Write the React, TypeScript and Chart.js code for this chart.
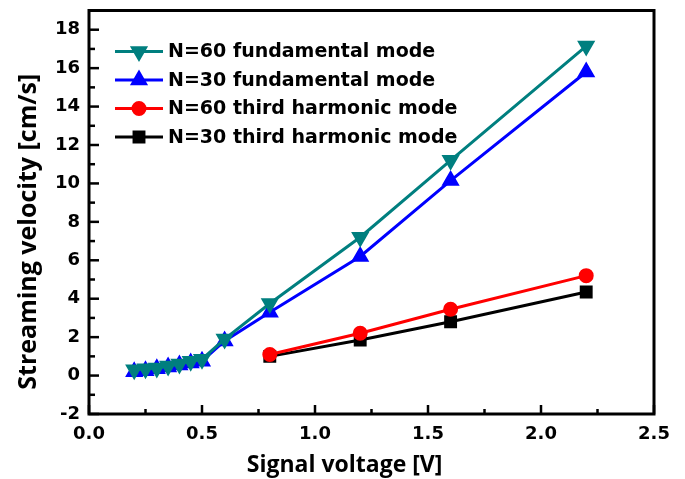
import React, { useEffect, useRef } from 'react';
import { Chart, registerables } from 'chart.js';
import { drawPoint } from 'chart.js/helpers';

Chart.register(...registerables);

// ---- data ----
const fundamentalVoltage = [0.2, 0.25, 0.3, 0.35, 0.4, 0.45, 0.5, 0.6, 0.8, 1.2, 1.6, 2.2];
const n60Fundamental = [0.3, 0.35, 0.4, 0.5, 0.6, 0.75, 0.85, 1.9, 3.75, 7.2, 11.2, 17.15];
const n30Fundamental = [0.2, 0.25, 0.35, 0.45, 0.55, 0.65, 0.75, 1.8, 3.3, 6.2, 10.15, 15.8];
const harmonicVoltage = [0.8, 1.2, 1.6, 2.2];
const n60Third = [1.1, 2.2, 3.45, 5.2];
const n30Third = [1.0, 1.85, 2.8, 4.35];

const seriesLabels = [
  'N=60 fundamental mode',
  'N=30 fundamental mode',
  'N=60 third harmonic mode',
  'N=30 third harmonic mode',
];

const xTicks = [0, 0.5, 1.0, 1.5, 2.0, 2.5];
const yTicks = [-2, 0, 2, 4, 6, 8, 10, 12, 14, 16, 18];
const xMinorTicks = [0.25, 0.75, 1.25, 1.75, 2.25];
const yMinorTicks = [-1, 1, 3, 5, 7, 9, 11, 13, 15, 17];

const xTitle = 'Signal voltage [V]';
const yTitle = 'Streaming velocity [cm/s]';

const toPoints = (xs: number[], ys: number[]) => xs.map((x, i) => ({ x, y: ys[i] }));

const TEAL = '#007F7F';
const BLUE = '#0000FF';
const RED = '#FF0000';
const BLACK = '#000000';

const framePlugin = {
  id: 'frameTicks',
  afterDatasetsDraw(chart: any) {
    const { ctx, chartArea: a, scales } = chart;
    const x = scales.x;
    const y = scales.y;
    ctx.save();
    ctx.strokeStyle = '#000';
    ctx.lineCap = 'butt';
    ctx.lineWidth = 2.5;
    const line = (x1: number, y1: number, x2: number, y2: number) => {
      ctx.beginPath();
      ctx.moveTo(x1, y1);
      ctx.lineTo(x2, y2);
      ctx.stroke();
    };
    xTicks.forEach((v) => {
      const px = x.getPixelForValue(v);
      line(px, a.bottom, px, a.bottom - 9);
    });
    xMinorTicks.forEach((v) => {
      const px = x.getPixelForValue(v);
      line(px, a.bottom, px, a.bottom - 5);
    });
    yTicks.forEach((v) => {
      const py = y.getPixelForValue(v);
      line(a.left, py, a.left + 10, py);
    });
    yMinorTicks.forEach((v) => {
      const py = y.getPixelForValue(v);
      line(a.left, py, a.left + 6, py);
    });
    ctx.lineWidth = 3;
    ctx.strokeRect(a.left, a.top, a.right - a.left, a.bottom - a.top);
    ctx.restore();
  },
};

const legendPlugin = {
  id: 'insideLegend',
  afterDraw(chart: any) {
    const { ctx, chartArea: a } = chart;
    const startY = a.top + 41;
    const rowH = 28.5;
    chart.data.datasets.forEach((ds: any, i: number) => {
      const y = startY + i * rowH;
      const x0 = a.left + 26;
      const x1 = a.left + 74;
      const xm = (x0 + x1) / 2;
      ctx.save();
      ctx.strokeStyle = ds.borderColor;
      ctx.lineWidth = 3;
      ctx.beginPath();
      ctx.moveTo(x0, y);
      ctx.lineTo(x1, y);
      ctx.stroke();
      ctx.fillStyle = ds.pointBackgroundColor;
      ctx.strokeStyle = ds.pointBorderColor;
      drawPoint(
        ctx,
        { pointStyle: ds.pointStyle, rotation: ds.pointRotation || 0, radius: ds.pointRadius, borderWidth: 1 } as any,
        xm,
        y
      );
      ctx.fillStyle = '#000';
      ctx.font = 'bold 19px "DejaVu Sans"';
      ctx.textBaseline = 'middle';
      ctx.textAlign = 'left';
      ctx.fillText(ds.label, a.left + 79, y + 1);
      ctx.restore();
    });
  },
};

export default function App() {
  const ref = useRef<HTMLCanvasElement>(null);
  useEffect(() => {
    document.body.style.margin = '0';
    const tickFont = { family: '"DejaVu Sans"', size: 18, weight: 'bold' as const };
    const chart = new Chart(ref.current as HTMLCanvasElement, {
      type: 'line',
      data: {
        datasets: [
          {
            label: seriesLabels[0],
            data: toPoints(fundamentalVoltage, n60Fundamental),
            borderColor: TEAL,
            backgroundColor: TEAL,
            pointBackgroundColor: TEAL,
            pointBorderColor: TEAL,
            pointStyle: 'triangle',
            pointRotation: 180,
            pointRadius: 7.5,
            borderWidth: 3,
          },
          {
            label: seriesLabels[1],
            data: toPoints(fundamentalVoltage, n30Fundamental),
            borderColor: BLUE,
            backgroundColor: BLUE,
            pointBackgroundColor: BLUE,
            pointBorderColor: BLUE,
            pointStyle: 'triangle',
            pointRadius: 7.5,
            borderWidth: 3,
          },
          {
            label: seriesLabels[2],
            data: toPoints(harmonicVoltage, n60Third),
            borderColor: RED,
            backgroundColor: RED,
            pointBackgroundColor: RED,
            pointBorderColor: RED,
            pointStyle: 'circle',
            pointRadius: 6,
            borderWidth: 3,
          },
          {
            label: seriesLabels[3],
            data: toPoints(harmonicVoltage, n30Third),
            borderColor: BLACK,
            backgroundColor: BLACK,
            pointBackgroundColor: BLACK,
            pointBorderColor: BLACK,
            pointStyle: 'rect',
            pointRadius: 7,
            borderWidth: 3,
          },
        ] as any,
      },
      options: {
        responsive: false,
        animation: false,
        events: [],
        layout: { padding: { left: 0, top: 8, right: 31, bottom: 0 } },
        plugins: { legend: { display: false }, tooltip: { enabled: false } },
        elements: { line: { tension: 0 } },
        scales: {
          x: {
            type: 'linear',
            min: 0,
            max: 2.5,
            afterBuildTicks: (s: any) => {
              s.ticks = xTicks.map((v) => ({ value: v }));
            },
            afterFit: (s: any) => {
              s.height = 65;
              s.paddingLeft = 0;
              s.paddingRight = 0;
            },
            ticks: {
              autoSkip: false,
              maxRotation: 0,
              padding: 10,
              color: '#000',
              font: tickFont,
              callback: (v: any) => Number(v).toFixed(1),
            },
            grid: { display: false, drawTicks: false },
            border: { display: false },
            title: {
              display: true,
              text: xTitle + '\u00A0'.repeat(9),
              color: '#000',
              font: { family: '"Open Sans"', size: 23, weight: 'bold' },
              padding: { top: 0, bottom: 0 },
            },
          },
          y: {
            type: 'linear',
            min: -2,
            max: 19,
            afterBuildTicks: (s: any) => {
              s.ticks = yTicks.map((v) => ({ value: v }));
            },
            afterFit: (s: any) => {
              s.width = 89;
              s.paddingTop = 0;
              s.paddingBottom = 0;
            },
            ticks: {
              autoSkip: false,
              padding: 9,
              color: '#000',
              font: tickFont,
              callback: (v: any) => String(v),
            },
            grid: { display: false, drawTicks: false },
            border: { display: false },
            title: {
              display: true,
              text: yTitle + '\u00A0'.repeat(6),
              color: '#000',
              font: { family: '"Open Sans"', size: 25, weight: 'bold' },
              padding: { top: 14, bottom: 0 },
            },
          },
        },
      } as any,
      plugins: [framePlugin, legendPlugin],
    });
    return () => chart.destroy();
  }, []);
  return <canvas ref={ref} width={685} height={479} style={{ display: 'block' }} />;
}
